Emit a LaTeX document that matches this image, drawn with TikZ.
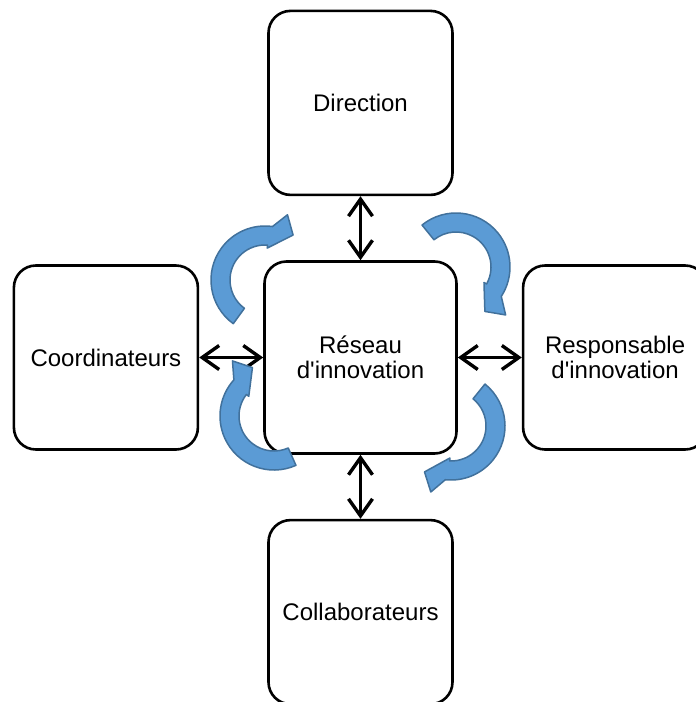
\documentclass[tikz,border=0pt]{standalone}
\usepackage{fontspec}
\setmainfont{Liberation Sans}
\usetikzlibrary{positioning,arrows.meta}
\definecolor{spinblue}{HTML}{5B9BD5}
\definecolor{spinedge}{HTML}{41719C}

\begin{document}
\begin{tikzpicture}[x=0.5pt, y=0.5pt, node distance=32pt,
        box/.style={rectangle, draw, line width=1.3pt, rounded corners=11pt, minimum width=92pt, minimum height=92pt, align=center, font=\fontsize{12}{12.5}\selectfont},
        spin/.style={fill=spinblue, draw=spinedge, line width=0.75pt, line join=round},
        link/.style={<->, line width=1.7pt},
        >={Straight Barb[length=8.5pt,width=12pt]}]
        \useasboundingbox (0,0) rectangle (696,-702);
        % Nodes
        \node[box, minimum width=96pt, minimum height=96pt] (R) at (360.5,-357.5) {Réseau\\d\textquotesingle innovation};
        \node[box, above=of R] (D) {Direction};
        \node[box, left=of R] (C) {Coordinateurs};
        \node[box, right=of R] (P) {Responsable\\d\textquotesingle innovation};
        \node[box, below=of R] (B) {Collaborateurs};
        % Arrows
        \draw[link] (R) -- (D);
        \draw[link] (R) -- (C);
        \draw[link] (R) -- (P);
        \draw[link] (R) -- (B);
        % Cycle
        \draw[spin, shift={(265,-280)}] (234:27pt) arc[start angle=234, end angle=82, radius=27pt] -- (71:34.5pt) -- (58:26.5pt) -- (86:16pt) -- (86:17.5pt) arc[start angle=86, end angle=234, radius=17.5pt] -- cycle;
        \draw[spin, shift={(456,-267)}] (129:27pt) arc[start angle=129, end angle=-33, radius=27pt] -- (-44:34.5pt) -- (-57:26.5pt) -- (-29:16pt) -- (-29:17.5pt) arc[start angle=-29, end angle=129, radius=17.5pt] -- cycle;
        \draw[spin, shift={(451,-426)}] (51:27pt) arc[start angle=51, end angle=-96, radius=27pt] -- (-107:34.5pt) -- (-120:26.5pt) -- (-92:16pt) -- (-92:17.5pt) arc[start angle=-92, end angle=51, radius=17.5pt] -- cycle;
        \draw[spin, shift={(274,-416)}] (294:27pt) arc[start angle=294, end angle=138, radius=27pt] -- (127:34.5pt) -- (114:26.5pt) -- (142:16pt) -- (142:17.5pt) arc[start angle=142, end angle=294, radius=17.5pt] -- cycle;
    \end{tikzpicture}
\end{document}
